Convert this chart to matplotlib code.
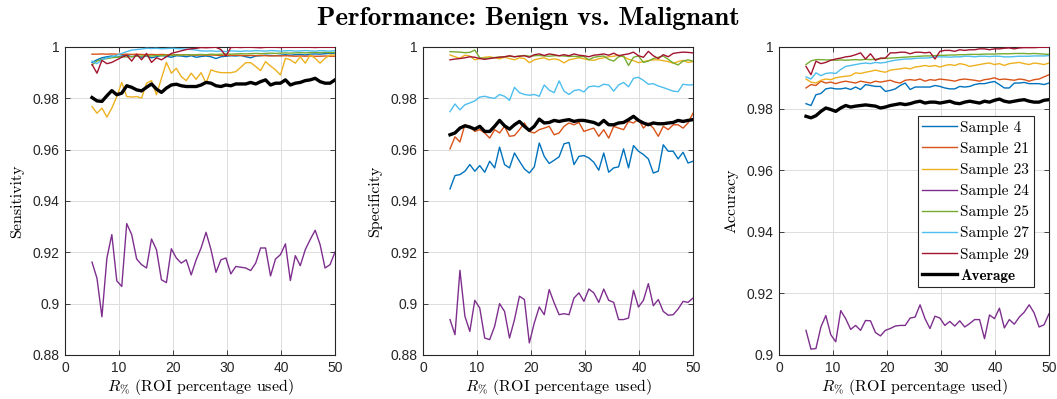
import matplotlib
matplotlib.use("Agg")
import matplotlib.pyplot as plt
from matplotlib.ticker import FuncFormatter
from matplotlib.font_manager import FontProperties

plt.rcParams['mathtext.fontset'] = 'cm'

# ---------------- data ----------------
R_PCT = [5.00, 5.92, 6.84, 7.76, 8.67, 9.59, 10.51, 11.43, 12.35, 13.27, 14.18, 15.10,
         16.02, 16.94, 17.86, 18.78, 19.69, 20.61, 21.53, 22.45, 23.37, 24.29, 25.20,
         26.12, 27.04, 27.96, 28.88, 29.80, 30.71, 31.63, 32.55, 33.47, 34.39, 35.31,
         36.22, 37.14, 38.06, 38.98, 39.90, 40.82, 41.73, 42.65, 43.57, 44.49, 45.41,
         46.33, 47.24, 48.16, 49.08, 50.00]

LABELS = ['Sample 4', 'Sample 21', 'Sample 23', 'Sample 24', 'Sample 25',
          'Sample 27', 'Sample 29', 'Average']
COLORS = ['#0072BD', '#D95319', '#EDB120', '#7E2F8E', '#77AC30', '#4DBEEE',
          '#A2142F', '#000000']

# Sensitivity
sens_s4 = [0.9940, 0.9950, 0.9958, 0.9962, 0.9965, 0.9960, 0.9965, 0.9968, 0.9962, 0.9966,
           0.9960, 0.9965, 0.9958, 0.9962, 0.9967, 0.9964, 0.9960, 0.9966, 0.9965, 0.9962,
           0.9966, 0.9960, 0.9963, 0.9965, 0.9962, 0.9955, 0.9962, 0.9964, 0.9966, 0.9965,
           0.9967, 0.9962, 0.9958, 0.9965, 0.9966, 0.9968, 0.9967, 0.9966, 0.9968, 0.9970,
           0.9968, 0.9970, 0.9971, 0.9969, 0.9972, 0.9973, 0.9972, 0.9974, 0.9975, 0.9976]
sens_s21 = [0.9972, 0.9972, 0.9973, 0.9972, 0.9973, 0.9972, 0.9971, 0.9972, 0.9971, 0.9972,
            0.9971, 0.9970, 0.9971, 0.9970, 0.9971, 0.9970, 0.9969, 0.9970, 0.9969, 0.9970,
            0.9969, 0.9968, 0.9969, 0.9968, 0.9969, 0.9968, 0.9967, 0.9968, 0.9967, 0.9968,
            0.9967, 0.9966, 0.9967, 0.9966, 0.9967, 0.9966, 0.9965, 0.9966, 0.9965, 0.9966,
            0.9965, 0.9964, 0.9965, 0.9964, 0.9965, 0.9964, 0.9964, 0.9965, 0.9964, 0.9964]
sens_s23 = [0.9768, 0.9742, 0.9762, 0.9727, 0.9762, 0.9807, 0.9862, 0.9807, 0.9805, 0.9807,
            0.9801, 0.9859, 0.9869, 0.9814, 0.9878, 0.9940, 0.9898, 0.9917, 0.9885, 0.9869,
            0.9898, 0.9874, 0.9900, 0.9859, 0.9911, 0.9904, 0.9900, 0.9900, 0.9900, 0.9904,
            0.9921, 0.9939, 0.9939, 0.9924, 0.9908, 0.9943, 0.9926, 0.9911, 0.9891, 0.9956,
            0.9950, 0.9937, 0.9962, 0.9937, 0.9969, 0.9956, 0.9937, 0.9956, 0.9969, 0.9969]
sens_s24 = [0.9162, 0.9099, 0.8949, 0.9178, 0.9269, 0.9089, 0.9067, 0.9312, 0.9269, 0.9174,
            0.9152, 0.9139, 0.9252, 0.9210, 0.9093, 0.9082, 0.9214, 0.9178, 0.9158, 0.9171,
            0.9112, 0.9171, 0.9217, 0.9278, 0.9210, 0.9122, 0.9171, 0.9178, 0.9116, 0.9145,
            0.9142, 0.9139, 0.9129, 0.9158, 0.9217, 0.9217, 0.9108, 0.9174, 0.9191, 0.9233,
            0.9090, 0.9187, 0.9148, 0.9210, 0.9250, 0.9286, 0.9230, 0.9139, 0.9152, 0.9201]
sens_s25 = [0.9930, 0.9945, 0.9952, 0.9955, 0.9958, 0.9960, 0.9962, 0.9961, 0.9963, 0.9964,
            0.9965, 0.9966, 0.9965, 0.9967, 0.9966, 0.9968, 0.9967, 0.9969, 0.9968, 0.9970,
            0.9969, 0.9970, 0.9971, 0.9970, 0.9972, 0.9971, 0.9972, 0.9973, 0.9972, 0.9973,
            0.9974, 0.9973, 0.9974, 0.9975, 0.9974, 0.9975, 0.9976, 0.9975, 0.9976, 0.9977,
            0.9976, 0.9977, 0.9978, 0.9977, 0.9978, 0.9979, 0.9978, 0.9979, 0.9978, 0.9979]
sens_s27 = [0.9945, 0.9935, 0.9950, 0.9958, 0.9962, 0.9968, 0.9975, 0.9982, 0.9988, 0.9990,
            0.9992, 0.9995, 0.9994, 0.9995, 0.9993, 0.9994, 0.9995, 0.9994, 0.9993, 0.9992,
            0.9990, 0.9988, 0.9985, 0.9984, 0.9985, 0.9983, 0.9984, 0.9982, 0.9985, 0.9984,
            0.9983, 0.9985, 0.9984, 0.9986, 0.9985, 0.9984, 0.9986, 0.9985, 0.9984, 0.9985,
            0.9986, 0.9984, 0.9985, 0.9986, 0.9985, 0.9984, 0.9986, 0.9985, 0.9984, 0.9986]
sens_s29 = [0.9932, 0.9898, 0.9948, 0.9935, 0.9940, 0.9950, 0.9960, 0.9968, 0.9945, 0.9972,
            0.9950, 0.9975, 0.9940, 0.9958, 0.9950, 0.9962, 0.9975, 0.9980, 0.9985, 0.9990,
            0.9993, 0.9995, 0.9998, 0.9997, 0.9998, 0.9999, 0.9990, 0.9965, 0.9998, 0.9999,
            0.9998, 0.9999, 0.9999, 0.9998, 0.9997, 0.9999, 0.9999, 0.9999, 0.9998, 0.9999,
            0.9999, 0.9999, 0.9999, 0.9999, 0.9999, 0.9998, 0.9999, 0.9999, 0.9999, 0.9999]
sens_avg = [0.9803, 0.9790, 0.9788, 0.9810, 0.9830, 0.9814, 0.9820, 0.9849, 0.9843, 0.9833,
            0.9829, 0.9843, 0.9856, 0.9836, 0.9823, 0.9840, 0.9852, 0.9855, 0.9849, 0.9846,
            0.9846, 0.9846, 0.9852, 0.9862, 0.9859, 0.9849, 0.9846, 0.9852, 0.9849, 0.9856,
            0.9856, 0.9856, 0.9862, 0.9856, 0.9865, 0.9872, 0.9852, 0.9859, 0.9859, 0.9872,
            0.9852, 0.9859, 0.9862, 0.9869, 0.9872, 0.9878, 0.9865, 0.9859, 0.9859, 0.9872]

# Specificity
spec_s4 = [0.9447, 0.9499, 0.9503, 0.9516, 0.9542, 0.9516, 0.9538, 0.9512, 0.9555, 0.9529,
           0.9610, 0.9542, 0.9529, 0.9587, 0.9555, 0.9525, 0.9509, 0.9533, 0.9626, 0.9574,
           0.9546, 0.9559, 0.9572, 0.9623, 0.9628, 0.9542, 0.9574, 0.9577, 0.9568, 0.9551,
           0.9520, 0.9587, 0.9512, 0.9529, 0.9533, 0.9603, 0.9529, 0.9616, 0.9594, 0.9581,
           0.9564, 0.9509, 0.9516, 0.9619, 0.9594, 0.9594, 0.9564, 0.9590, 0.9548, 0.9555]
spec_s21 = [0.9603, 0.9650, 0.9630, 0.9697, 0.9691, 0.9671, 0.9678, 0.9665, 0.9645, 0.9678,
            0.9665, 0.9691, 0.9652, 0.9655, 0.9678, 0.9704, 0.9671, 0.9665, 0.9678, 0.9684,
            0.9691, 0.9658, 0.9665, 0.9691, 0.9704, 0.9697, 0.9706, 0.9671, 0.9678, 0.9684,
            0.9652, 0.9678, 0.9645, 0.9691, 0.9684, 0.9678, 0.9710, 0.9704, 0.9719, 0.9684,
            0.9704, 0.9684, 0.9652, 0.9691, 0.9678, 0.9697, 0.9697, 0.9684, 0.9704, 0.9742]
spec_s23 = [0.9969, 0.9962, 0.9956, 0.9968, 0.9965, 0.9950, 0.9955, 0.9960, 0.9962, 0.9958,
            0.9954, 0.9960, 0.9955, 0.9950, 0.9958, 0.9955, 0.9939, 0.9950, 0.9955, 0.9958,
            0.9950, 0.9954, 0.9950, 0.9938, 0.9950, 0.9954, 0.9958, 0.9954, 0.9950, 0.9948,
            0.9954, 0.9958, 0.9962, 0.9964, 0.9968, 0.9962, 0.9952, 0.9947, 0.9939, 0.9943,
            0.9947, 0.9950, 0.9950, 0.9947, 0.9943, 0.9937, 0.9943, 0.9948, 0.9940, 0.9943]
spec_s24 = [0.8938, 0.8879, 0.9130, 0.8951, 0.8892, 0.9013, 0.8983, 0.8866, 0.8860, 0.8912,
            0.9000, 0.8970, 0.8866, 0.8938, 0.9029, 0.9016, 0.8847, 0.8925, 0.8987, 0.8957,
            0.9055, 0.9003, 0.8957, 0.8961, 0.8957, 0.9022, 0.9042, 0.9009, 0.9057, 0.9042,
            0.9005, 0.9057, 0.9013, 0.9005, 0.8938, 0.8938, 0.8944, 0.9052, 0.8987, 0.9013,
            0.9078, 0.8992, 0.9016, 0.8970, 0.8955, 0.8957, 0.8979, 0.9009, 0.9005, 0.9022]
spec_s25 = [0.9982, 0.9981, 0.9980, 0.9978, 0.9979, 0.9988, 0.9958, 0.9955, 0.9957, 0.9959,
            0.9961, 0.9962, 0.9964, 0.9962, 0.9965, 0.9967, 0.9964, 0.9966, 0.9967, 0.9965,
            0.9964, 0.9966, 0.9966, 0.9965, 0.9963, 0.9964, 0.9962, 0.9963, 0.9950, 0.9960,
            0.9963, 0.9965, 0.9952, 0.9945, 0.9962, 0.9965, 0.9928, 0.9960, 0.9965, 0.9940,
            0.9945, 0.9955, 0.9960, 0.9965, 0.9952, 0.9938, 0.9930, 0.9945, 0.9950, 0.9945]
spec_s27 = [0.9748, 0.9778, 0.9755, 0.9775, 0.9782, 0.9790, 0.9805, 0.9808, 0.9803, 0.9800,
            0.9815, 0.9808, 0.9792, 0.9843, 0.9822, 0.9815, 0.9812, 0.9815, 0.9808, 0.9852,
            0.9832, 0.9822, 0.9868, 0.9828, 0.9815, 0.9830, 0.9834, 0.9825, 0.9845, 0.9848,
            0.9845, 0.9855, 0.9852, 0.9828, 0.9852, 0.9862, 0.9845, 0.9878, 0.9882, 0.9870,
            0.9855, 0.9857, 0.9848, 0.9842, 0.9835, 0.9828, 0.9826, 0.9855, 0.9852, 0.9853]
spec_s29 = [0.9950, 0.9953, 0.9955, 0.9958, 0.9962, 0.9960, 0.9955, 0.9952, 0.9955, 0.9958,
            0.9960, 0.9962, 0.9966, 0.9962, 0.9964, 0.9966, 0.9960, 0.9970, 0.9973, 0.9967,
            0.9973, 0.9970, 0.9966, 0.9970, 0.9966, 0.9973, 0.9968, 0.9966, 0.9962, 0.9968,
            0.9970, 0.9973, 0.9968, 0.9976, 0.9966, 0.9970, 0.9973, 0.9980, 0.9966, 0.9960,
            0.9983, 0.9966, 0.9955, 0.9970, 0.9962, 0.9975, 0.9978, 0.9980, 0.9979, 0.9977]
spec_avg = [0.9658, 0.9665, 0.9684, 0.9693, 0.9688, 0.9680, 0.9691, 0.9671, 0.9671, 0.9691,
            0.9714, 0.9693, 0.9680, 0.9697, 0.9710, 0.9691, 0.9675, 0.9691, 0.9719, 0.9704,
            0.9706, 0.9714, 0.9710, 0.9714, 0.9717, 0.9710, 0.9714, 0.9714, 0.9710, 0.9706,
            0.9697, 0.9714, 0.9697, 0.9697, 0.9704, 0.9706, 0.9717, 0.9730, 0.9714, 0.9704,
            0.9697, 0.9704, 0.9701, 0.9701, 0.9704, 0.9706, 0.9714, 0.9710, 0.9714, 0.9717]

# Accuracy
acc_s4 = [0.9816, 0.9810, 0.9845, 0.9849, 0.9864, 0.9867, 0.9864, 0.9864, 0.9867, 0.9862,
          0.9870, 0.9862, 0.9878, 0.9875, 0.9872, 0.9872, 0.9856, 0.9859, 0.9864, 0.9875,
          0.9883, 0.9862, 0.9870, 0.9870, 0.9870, 0.9870, 0.9875, 0.9872, 0.9867, 0.9864,
          0.9864, 0.9872, 0.9870, 0.9872, 0.9878, 0.9881, 0.9881, 0.9885, 0.9888, 0.9878,
          0.9867, 0.9867, 0.9883, 0.9883, 0.9885, 0.9881, 0.9881, 0.9881, 0.9878, 0.9883]
acc_s21 = [0.9867, 0.9878, 0.9875, 0.9889, 0.9883, 0.9886, 0.9881, 0.9886, 0.9889, 0.9886,
           0.9883, 0.9889, 0.9886, 0.9883, 0.9889, 0.9886, 0.9889, 0.9892, 0.9886, 0.9883,
           0.9892, 0.9894, 0.9892, 0.9896, 0.9889, 0.9894, 0.9892, 0.9896, 0.9894, 0.9892,
           0.9889, 0.9894, 0.9896, 0.9894, 0.9892, 0.9889, 0.9894, 0.9896, 0.9900, 0.9894,
           0.9896, 0.9894, 0.9892, 0.9896, 0.9894, 0.9889, 0.9894, 0.9896, 0.9903, 0.9910]
acc_s23 = [0.9896, 0.9886, 0.9883, 0.9892, 0.9896, 0.9894, 0.9900, 0.9903, 0.9905, 0.9907,
           0.9916, 0.9914, 0.9918, 0.9921, 0.9925, 0.9921, 0.9918, 0.9925, 0.9927, 0.9929,
           0.9932, 0.9929, 0.9935, 0.9937, 0.9940, 0.9937, 0.9940, 0.9935, 0.9940, 0.9943,
           0.9940, 0.9946, 0.9943, 0.9937, 0.9940, 0.9943, 0.9946, 0.9948, 0.9943, 0.9946,
           0.9940, 0.9946, 0.9948, 0.9950, 0.9946, 0.9943, 0.9948, 0.9946, 0.9943, 0.9948]
acc_s24 = [0.9080, 0.9019, 0.9021, 0.9091, 0.9128, 0.9066, 0.9043, 0.9144, 0.9118, 0.9083,
           0.9096, 0.9080, 0.9112, 0.9111, 0.9073, 0.9062, 0.9080, 0.9086, 0.9094, 0.9096,
           0.9096, 0.9120, 0.9123, 0.9163, 0.9118, 0.9086, 0.9126, 0.9120, 0.9096, 0.9109,
           0.9094, 0.9111, 0.9091, 0.9102, 0.9115, 0.9115, 0.9053, 0.9130, 0.9118, 0.9152,
           0.9088, 0.9115, 0.9100, 0.9123, 0.9139, 0.9163, 0.9137, 0.9091, 0.9098, 0.9134]
acc_s25 = [0.9943, 0.9955, 0.9959, 0.9959, 0.9958, 0.9958, 0.9957, 0.9958, 0.9957, 0.9958,
           0.9959, 0.9958, 0.9960, 0.9959, 0.9960, 0.9962, 0.9963, 0.9964, 0.9965, 0.9966,
           0.9967, 0.9968, 0.9969, 0.9970, 0.9971, 0.9971, 0.9972, 0.9973, 0.9973, 0.9974,
           0.9974, 0.9975, 0.9975, 0.9976, 0.9976, 0.9976, 0.9977, 0.9977, 0.9977, 0.9978,
           0.9978, 0.9978, 0.9979, 0.9979, 0.9979, 0.9978, 0.9979, 0.9978, 0.9977, 0.9976]
acc_s27 = [0.9903, 0.9896, 0.9916, 0.9907, 0.9914, 0.9916, 0.9914, 0.9927, 0.9937, 0.9940,
           0.9943, 0.9946, 0.9948, 0.9946, 0.9950, 0.9948, 0.9950, 0.9954, 0.9957, 0.9959,
           0.9961, 0.9961, 0.9963, 0.9964, 0.9964, 0.9965, 0.9968, 0.9968, 0.9968, 0.9967,
           0.9968, 0.9968, 0.9970, 0.9970, 0.9968, 0.9970, 0.9970, 0.9969, 0.9970, 0.9970,
           0.9968, 0.9968, 0.9969, 0.9970, 0.9970, 0.9970, 0.9971, 0.9971, 0.9971, 0.9972]
acc_s29 = [0.9937, 0.9910, 0.9954, 0.9946, 0.9950, 0.9957, 0.9961, 0.9964, 0.9968, 0.9970,
           0.9975, 0.9981, 0.9961, 0.9978, 0.9957, 0.9964, 0.9964, 0.9981, 0.9981, 0.9983,
           0.9983, 0.9978, 0.9983, 0.9983, 0.9981, 0.9983, 0.9961, 0.9986, 0.9989, 0.9989,
           0.9986, 0.9991, 0.9989, 0.9991, 0.9991, 0.9994, 0.9994, 0.9991, 0.9994, 0.9994,
           0.9996, 0.9997, 0.9994, 0.9997, 0.9998, 0.9998, 0.9998, 0.9999, 0.9999, 0.9999]
acc_avg = [0.9775, 0.9770, 0.9777, 0.9791, 0.9802, 0.9797, 0.9791, 0.9802, 0.9810, 0.9805,
           0.9808, 0.9810, 0.9812, 0.9810, 0.9808, 0.9802, 0.9805, 0.9810, 0.9813, 0.9816,
           0.9813, 0.9816, 0.9821, 0.9824, 0.9818, 0.9821, 0.9821, 0.9818, 0.9821, 0.9824,
           0.9818, 0.9816, 0.9821, 0.9824, 0.9821, 0.9818, 0.9824, 0.9821, 0.9827, 0.9831,
           0.9824, 0.9821, 0.9824, 0.9827, 0.9829, 0.9824, 0.9821, 0.9821, 0.9827, 0.9829]

PANELS = [
    ('Sensitivity', [sens_s4, sens_s21, sens_s23, sens_s24, sens_s25, sens_s27, sens_s29, sens_avg],
     (0.88, 1.0), [0.88, 0.90, 0.92, 0.94, 0.96, 0.98, 1.0]),
    ('Specificity', [spec_s4, spec_s21, spec_s23, spec_s24, spec_s25, spec_s27, spec_s29, spec_avg],
     (0.88, 1.0), [0.88, 0.90, 0.92, 0.94, 0.96, 0.98, 1.0]),
    ('Accuracy', [acc_s4, acc_s21, acc_s23, acc_s24, acc_s25, acc_s27, acc_s29, acc_avg],
     (0.90, 1.0), [0.90, 0.92, 0.94, 0.96, 0.98, 1.0]),
]
X_TICKS = [0, 10, 20, 30, 40, 50]
TITLE = 'Performance: Benign vs. Malignant'
XLABEL = r'$R_{\%}$ (ROI percentage used)'

# ---------------- figure ----------------
W, H = 1057, 399
fig = plt.figure(figsize=(W / 100, H / 100), dpi=100)
lefts = [65, 423, 779]
ax_w = 270
ax_top, ax_bot = 47, 355

serif = FontProperties(family='cmr10', size=11.5)
serif_bold = FontProperties(family='cmb10', size=19.5)
tick_font = 'Liberation Sans'
axcol = '#262626'

fmt = FuncFormatter(lambda v, p: f'{v:g}')

for i, (ylab, series, ylim, yticks) in enumerate(PANELS):
    ax = fig.add_axes([lefts[i] / W, 1 - ax_bot / H, ax_w / W, (ax_bot - ax_top) / H])
    for vals, lab, col in zip(series, LABELS, COLORS):
        if lab == 'Average':
            ax.plot(R_PCT, vals, color=col, lw=2.4, label=lab, zorder=5)
        else:
            ax.plot(R_PCT, vals, color=col, lw=1.0, label=lab, zorder=3)
    ax.set_xlim(0, 50)
    ax.set_ylim(*ylim)
    ax.set_xticks(X_TICKS)
    ax.set_yticks(yticks)
    ax.yaxis.set_major_formatter(fmt)
    ax.grid(True, color='#dcdcdc', lw=0.7, zorder=0)
    ax.set_axisbelow(True)
    ax.tick_params(direction='in', length=3.5, width=0.6, colors=axcol,
                   top=True, right=True, labelsize=10, pad=4)
    for lbl in ax.get_xticklabels() + ax.get_yticklabels():
        lbl.set_fontfamily(tick_font)
    for sp in ax.spines.values():
        sp.set_color(axcol)
        sp.set_linewidth(0.8)
    ax.set_ylabel(ylab, fontproperties=serif, labelpad=6)
    ax.set_xlabel(XLABEL, fontproperties=serif, labelpad=2)

    if i == 2:
        leg = ax.legend(loc='upper left', bbox_to_anchor=(0.513, 0.776),
                        prop=FontProperties(family='cmr10', size=11),
                        frameon=True, fancybox=False, framealpha=1,
                        edgecolor='#262626', borderpad=0.3, labelspacing=0.47,
                        handlelength=2.3, handletextpad=0.2, borderaxespad=0)
        leg.get_frame().set_linewidth(0.8)
        leg.set_zorder(10)
        leg.get_texts()[-1].set_fontproperties(FontProperties(family='cmb10', size=11))

fig.text(0.5, 1 - 18 / H, TITLE, ha='center', va='center', fontproperties=serif_bold)

fig.savefig('out.png', dpi=100)
